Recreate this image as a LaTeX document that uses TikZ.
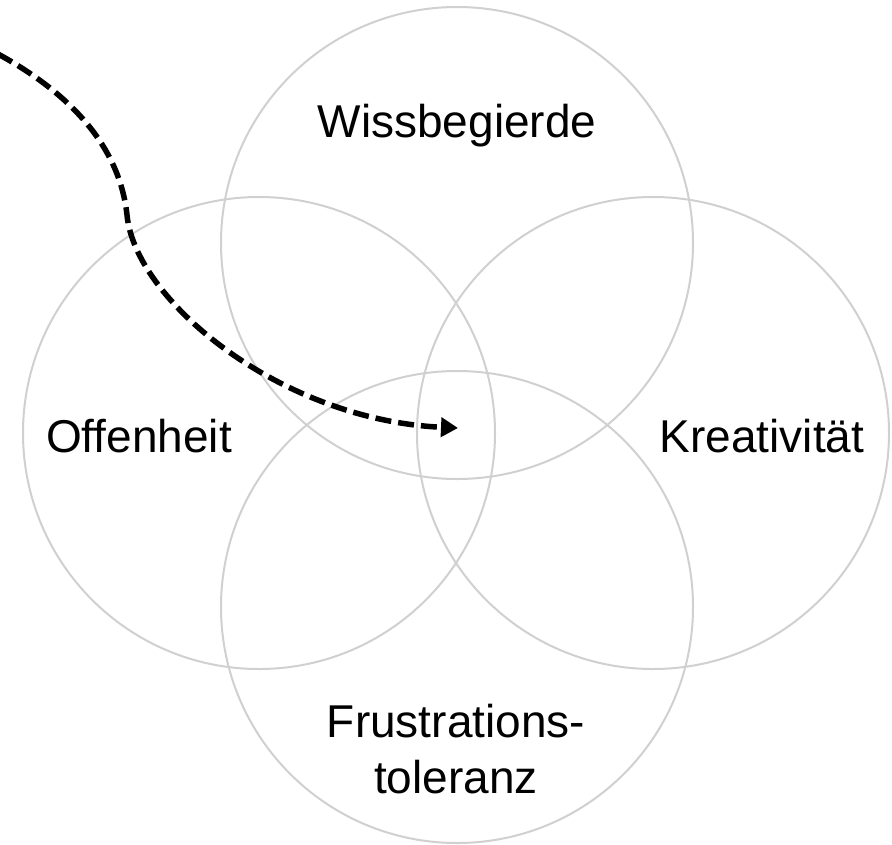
\documentclass[tikz,border=0pt]{standalone}
\usepackage{fontspec}
\setmainfont{Liberation Sans}
\usetikzlibrary{arrows.meta}
\definecolor{ringgray}{HTML}{D0D0D0}
\begin{document}
\begin{tikzpicture}[x=1pt,y=1pt,
  ring/.style={draw=ringgray,line width=2pt,circle,minimum size=472pt,inner sep=0pt},
  lbl/.style={font=\fontsize{46}{54}\selectfont,inner sep=0pt,anchor=base},
  flow/.style={line width=5.5pt,dash pattern=on 16pt off 7pt,-{Triangle[length=17pt,width=19pt]}}]
\useasboundingbox (0,0) rectangle (892,-844);
\node[ring] (ctop) at (457,-243) {};
\node[ring] (cleft) at (259,-433) {};
\node[ring] (cright) at (653,-433) {};
\node[ring] (cbot) at (457,-607) {};
\node[lbl] (tw) at (457,-137) {Wissbegierde};
\node[lbl] (to) at (139,-452) {Offenheit};
\node[lbl] (tk) at (762,-452) {Kreativität};
\node[lbl] (tf1) at (456,-737) {Frustrations-};
\node[lbl] (tf2) at (456,-793) {toleranz};
\coordinate (s) at (-2,-54);
\coordinate (m) at (127,-215);
\coordinate (t) at (458,-428);
\draw[flow] (s) .. controls (75,-96) and (120,-150) .. (m)
  .. controls (135,-300) and (280,-420) .. (t);
\end{tikzpicture}
\end{document}
